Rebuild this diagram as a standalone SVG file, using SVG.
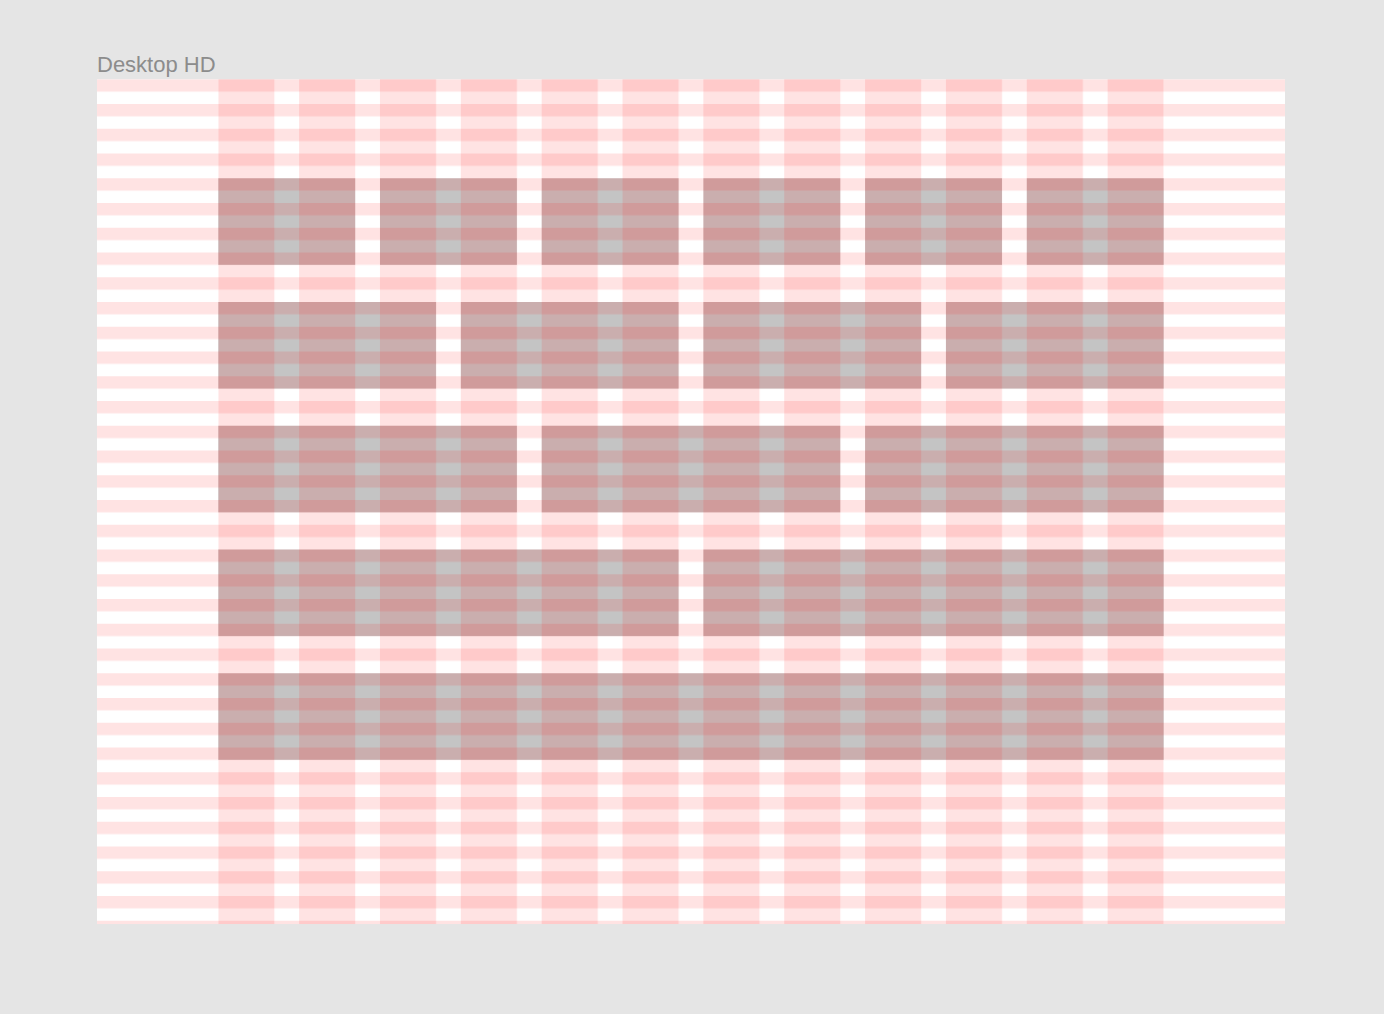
<svg xmlns="http://www.w3.org/2000/svg" width="1384" height="1014" viewBox="0 0 1384 1014">
  <defs>
    <style>
      .title { font-family: "Liberation Sans", Arial, sans-serif; font-size: 22px; fill: #8c8c8c; }
      .block { fill: #c4c4c4; }
      .ov { fill: #ff0000; fill-opacity: 0.11; }
    </style>
    <pattern id="stripes" x="0" y="0" width="1440" height="30" patternUnits="userSpaceOnUse">
      <rect class="ov" x="0" y="0" width="1440" height="15"/>
    </pattern>
    <pattern id="cols" x="147" y="0" width="98" height="1024" patternUnits="userSpaceOnUse">
      <rect class="ov" x="0" y="0" width="68" height="1024"/>
    </pattern>
  </defs>
  <rect width="1384" height="1014" fill="#e5e5e5"/>
  <text class="title" x="97" y="72">Desktop HD</text>
  <g id="artboard" transform="translate(97 79.25) scale(0.825)">
    <rect x="0" y="0" width="1440" height="1024" fill="#ffffff"/>
    <g id="blocks">
      <g id="row-1">
        <rect class="block" x="147" y="120" width="166" height="105"/>
        <rect class="block" x="343" y="120" width="166" height="105"/>
        <rect class="block" x="539" y="120" width="166" height="105"/>
        <rect class="block" x="735" y="120" width="166" height="105"/>
        <rect class="block" x="931" y="120" width="166" height="105"/>
        <rect class="block" x="1127" y="120" width="166" height="105"/>
      </g>
      <g id="row-2">
        <rect class="block" x="147" y="270" width="264" height="105"/>
        <rect class="block" x="441" y="270" width="264" height="105"/>
        <rect class="block" x="735" y="270" width="264" height="105"/>
        <rect class="block" x="1029" y="270" width="264" height="105"/>
      </g>
      <g id="row-3">
        <rect class="block" x="147" y="420" width="362" height="105"/>
        <rect class="block" x="539" y="420" width="362" height="105"/>
        <rect class="block" x="931" y="420" width="362" height="105"/>
      </g>
      <g id="row-4">
        <rect class="block" x="147" y="570" width="558" height="105"/>
        <rect class="block" x="735" y="570" width="558" height="105"/>
      </g>
      <g id="row-5">
        <rect class="block" x="147" y="720" width="1146" height="105"/>
      </g>
    </g>
    <g id="grid">
      <rect x="0" y="0" width="1440" height="1024" fill="url(#stripes)"/>
      <rect x="147" y="0" width="1146" height="1024" fill="url(#cols)"/>
    </g>
  </g>
</svg>
